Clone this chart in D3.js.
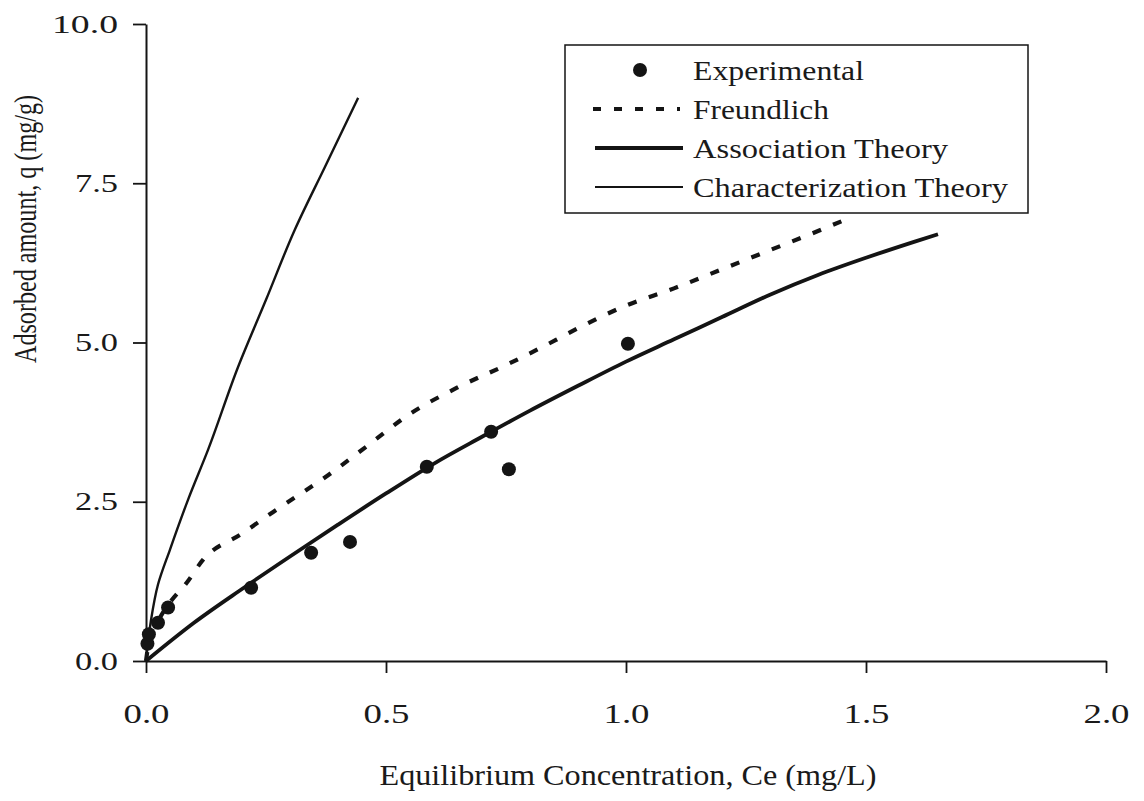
<!DOCTYPE html>
<html>
<head>
<meta charset="utf-8">
<script src="https://cdn.jsdelivr.net/npm/d3@7/dist/d3.min.js"></script>
<style>
  html, body { margin: 0; padding: 0; background: #fff; }
  svg { display: block; }
  svg text { font-family: "Liberation Serif", "Times New Roman", Tinos, serif; fill: #1a1a1a; }
</style>
</head>
<body>
<svg id="chart" width="1144" height="801"></svg>
<script>
// Experimental isotherm points: [Ce (mg/L), q (mg/g)]
const experimental = [
  [0.003, 0.27], [0.006, 0.42], [0.025, 0.60], [0.046, 0.84],
  [0.219, 1.15], [0.344, 1.70], [0.425, 1.87], [0.585, 3.05],
  [0.719, 3.60], [0.756, 3.01], [1.004, 4.98]
];

// Freundlich model curve
const freundlich = [
  [0.0, 0.0], [0.005, 0.25], [0.025, 0.62], [0.05, 0.92], [0.084, 1.22],
  [0.119, 1.59], [0.2, 2.0], [0.265, 2.34], [0.38, 2.92], [0.465, 3.4],
  [0.546, 3.86], [0.648, 4.29], [0.754, 4.66], [0.854, 5.04], [0.904, 5.24],
  [1.0, 5.58], [1.1, 5.85], [1.2, 6.15], [1.3, 6.45], [1.4, 6.75], [1.47, 6.97]
];

// Association theory model curve
const association = [
  [0.0, 0.0], [0.1, 0.6], [0.2, 1.13], [0.3, 1.64], [0.4, 2.14], [0.5, 2.63],
  [0.6, 3.1], [0.7, 3.52], [0.8, 3.93], [0.9, 4.32], [1.0, 4.7], [1.1, 5.05],
  [1.2, 5.4], [1.3, 5.75], [1.4, 6.06], [1.5, 6.33], [1.6, 6.58], [1.65, 6.7]
];

// Characterization theory model curve
const characterization = [
  [0.0, 0.0], [0.01, 0.62], [0.025, 1.2], [0.05, 1.75], [0.0875, 2.53],
  [0.129, 3.31], [0.192, 4.62], [0.25, 5.67], [0.31, 6.77], [0.373, 7.76],
  [0.442, 8.84]
];

const xTicks = [0, 0.5, 1.0, 1.5, 2.0];
const yTicks = [0, 2.5, 5.0, 7.5, 10.0];
const legendLabels = ["Experimental", "Freundlich", "Association Theory", "Characterization Theory"];
const xTitle = "Equilibrium Concentration, Ce (mg/L)";
const yTitle = "Adsorbed amount, q (mg/g)";

const svg = d3.select("#chart");
const ink = "#141414";
const serif = "'Liberation Serif', 'Times New Roman', Tinos, serif";

const x = d3.scaleLinear().domain([0, 2]).range([146, 1106]);
const y = d3.scaleLinear().domain([0, 10]).range([661, 24]);

// Axes
const xAxis = svg.append("g")
  .attr("transform", `translate(0,${y(0)})`)
  .call(d3.axisBottom(x).tickValues(xTicks).tickSize(12).tickSizeOuter(0).tickPadding(30)
    .tickFormat(d3.format(".1f")));
const yAxis = svg.append("g")
  .attr("transform", `translate(${x(0)},0)`)
  .call(d3.axisLeft(y).tickValues(yTicks).tickSize(13).tickSizeOuter(0).tickPadding(15)
    .tickFormat(d3.format(".1f")));

[xAxis, yAxis].forEach(g => {
  g.attr("font-family", serif);
  g.select(".domain").attr("stroke", ink).attr("stroke-width", 2);
  g.selectAll(".tick line").attr("stroke", ink).attr("stroke-width", 1.8);
});
xAxis.selectAll(".tick text")
  .attr("font-size", 28).attr("fill", ink)
  .attr("textLength", 46).attr("lengthAdjust", "spacingAndGlyphs");
yAxis.selectAll(".tick text")
  .attr("font-size", 25).attr("fill", ink)
  .attr("textLength", d => d >= 10 ? 66 : 43).attr("lengthAdjust", "spacingAndGlyphs");

// Axis titles
svg.append("text")
  .attr("x", 628).attr("y", 785)
  .attr("text-anchor", "middle")
  .attr("font-size", 30)
  .attr("textLength", 497).attr("lengthAdjust", "spacingAndGlyphs")
  .text(xTitle);
svg.append("text")
  .attr("transform", "translate(36,229) rotate(-90)")
  .attr("text-anchor", "middle")
  .attr("font-size", 31)
  .attr("textLength", 268).attr("lengthAdjust", "spacingAndGlyphs")
  .text(yTitle);

const line = d3.line().x(d => x(d[0])).y(d => y(d[1])).curve(d3.curveMonotoneX);

// Model curves
svg.append("path").datum(characterization)
  .attr("d", d3.line().x(d => x(d[0])).y(d => y(d[1])).curve(d3.curveMonotoneY))
  .attr("fill", "none").attr("stroke", ink).attr("stroke-width", 2.4);
svg.append("path").datum(freundlich)
  .attr("d", line)
  .attr("fill", "none").attr("stroke", ink).attr("stroke-width", 4.2)
  .attr("stroke-dasharray", "9,13");
svg.append("path").datum(association)
  .attr("d", line)
  .attr("fill", "none").attr("stroke", ink).attr("stroke-width", 3.8);

// Experimental points
svg.append("g").selectAll("circle").data(experimental).join("circle")
  .attr("cx", d => x(d[0])).attr("cy", d => y(d[1]))
  .attr("r", 7).attr("fill", ink);

// Legend
const lg = svg.append("g");
lg.append("rect")
  .attr("x", 565).attr("y", 45).attr("width", 463).attr("height", 168)
  .attr("fill", "#fff").attr("stroke", ink).attr("stroke-width", 1.5);
const rowY = [70, 109, 148, 187];
const labelWidths = [171, 136, 255, 315];
lg.append("circle").attr("cx", 640).attr("cy", rowY[0]).attr("r", 7).attr("fill", ink);
lg.append("line").attr("x1", 593).attr("x2", 680).attr("y1", rowY[1]).attr("y2", rowY[1])
  .attr("stroke", ink).attr("stroke-width", 4).attr("stroke-dasharray", "8,13");
lg.append("line").attr("x1", 595).attr("x2", 683).attr("y1", rowY[2]).attr("y2", rowY[2])
  .attr("stroke", ink).attr("stroke-width", 3.8);
lg.append("line").attr("x1", 595).attr("x2", 683).attr("y1", rowY[3]).attr("y2", rowY[3])
  .attr("stroke", ink).attr("stroke-width", 2.2);
lg.selectAll("text.lbl").data(legendLabels).join("text")
  .attr("class", "lbl")
  .attr("x", 693).attr("y", (d, i) => rowY[i] + 10)
  .attr("font-size", 28)
  .attr("textLength", (d, i) => labelWidths[i]).attr("lengthAdjust", "spacingAndGlyphs")
  .text(d => d);
</script>
</body>
</html>
